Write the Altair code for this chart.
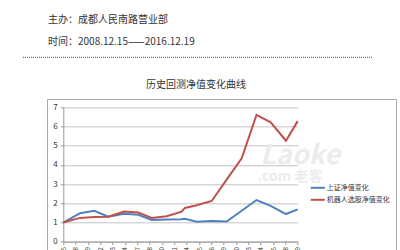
import altair as alt
import pandas as pd

# position on the date axis (in tick units, 0 = 2008/12/15, 19 = 2016/12/19)
pos = [0, 1.35, 2.51, 3.65, 4.92, 6.08, 7.16, 8.38, 9.59, 9.86, 10.81, 12.03, 13.24, 14.46, 15.66, 16.81, 18.05, 19]
sh_nav = [1.0, 1.48, 1.61, 1.30, 1.46, 1.40, 1.13, 1.16, 1.17, 1.19, 1.04, 1.08, 1.05, 1.61, 2.17, 1.87, 1.44, 1.68]
robot_nav = [1.0, 1.24, 1.28, 1.30, 1.57, 1.52, 1.24, 1.33, 1.56, 1.76, 1.90, 2.12, 3.23, 4.34, 6.60, 6.22, 5.26, 6.28]
series_names = ["上证净值变化", "机器人选股净值变化"]
series_colors = ["#4F81BD", "#C0504D"]
tick_labels = ["2008/12/15", "2009/5/18", "2009/10/19", "2010/3/22", "2010/8/23", "2011/1/24",
               "2011/6/27", "2011/11/28", "2012/4/30", "2012/10/1", "2013/3/4", "2013/8/5",
               "2014/1/6", "2014/6/9", "2014/11/10", "2015/4/13", "2015/9/14", "2016/2/15",
               "2016/7/18", "2016/12/19"]

rows = []
for name, vals in zip(series_names, [sh_nav, robot_nav]):
    for i, (p, v) in enumerate(zip(pos, vals)):
        rows.append({"pos": p, "value": v, "series": name, "order": i})
df = pd.DataFrame(rows)

FONT = "Noto Sans CJK SC"
label_arr = "[" + ",".join("'" + t + "'" for t in tick_labels) + "]"

lines = alt.Chart(df).mark_line(strokeWidth=2).encode(
    x=alt.X("pos:Q", scale=alt.Scale(domain=[0, 19], nice=False, zero=False),
            axis=alt.Axis(values=list(range(20)), labelExpr=label_arr + "[datum.value]",
                          labelAngle=270, labelAlign="right", labelBaseline="middle",
                          labelFontSize=6, labelColor="#333", labelPadding=2,
                          tickSize=3, tickColor="#999", domainColor="#999",
                          grid=False, title=None, labelFont=FONT, labelOverlap=False)),
    y=alt.Y("value:Q", scale=alt.Scale(domain=[0, 7], nice=False),
            axis=alt.Axis(values=list(range(8)), labelFontSize=8, labelColor="#333",
                          tickSize=3, tickColor="#999", domainColor="#999",
                          gridColor="#c4c4c4", grid=True, labelPadding=3,
                          title=None, labelFont=FONT)),
    color=alt.Color("series:N", scale=alt.Scale(domain=series_names, range=series_colors),
                    legend=alt.Legend(orient="none", legendX=246.5, legendY=72.5, title=None,
                                      symbolType="stroke", symbolSize=196, symbolStrokeWidth=2,
                                      labelFontSize=7, labelFont=FONT, labelColor="#333",
                                      rowPadding=-2, labelOffset=1)),
    order="order:Q",
)

one = pd.DataFrame([{"a": 1}])

def txt(s, x, y, size, align="left", color="#333", **kw):
    return alt.Chart(one).mark_text(text=s, align=align, baseline="middle", fontSize=size,
                                    font=FONT, color=color, **kw).encode(
        x=alt.value(x), y=alt.value(y))

header1 = txt("主办：成都人民南路营业部", 48 - 63.3, 20 - 107.3, 10)
header2 = txt("时间：2008.12.15——2016.12.19", 48 - 63.3, 41.5 - 107.3, 10)
title = txt("历史回测净值变化曲线", 196 - 63.3, 85 - 107.3, 10, align="center")
wm1 = txt("Laoke", 300 - 63.3, 156 - 107.3, 27, align="center", color="#ececec",
          fontStyle="italic", fontWeight="bold")
wm2 = txt(".com 老客", 290 - 63.3, 177 - 107.3, 14, align="center", color="#ececec",
          fontWeight="bold")

dotted = alt.Chart(one).mark_rule(color="#3344cc", strokeDash=[1, 1], strokeWidth=1).encode(
    x=alt.value(23 - 63.3), x2=alt.value(373 - 63.3), y=alt.value(57.3 - 107.3))

border = alt.Chart(one).mark_rect(fill=None, stroke="#aaaaaa", strokeWidth=1).encode(
    x=alt.value(47.5 - 63.3), x2=alt.value(396.5 - 63.3),
    y=alt.value(99.5 - 107.3), y2=alt.value(200))

chart = alt.layer(border, wm1, wm2, lines, header1, header2, title, dotted).properties(
    width=234.4, height=134.4,
    autosize=alt.AutoSizeParams(type="none"),
    padding={"left": 63.3, "top": 107.3, "right": 102.3, "bottom": 8.3},
    background="white",
).configure_view(stroke=None)

chart.save("out.html", embed_options={"renderer": "svg", "actions": False})
